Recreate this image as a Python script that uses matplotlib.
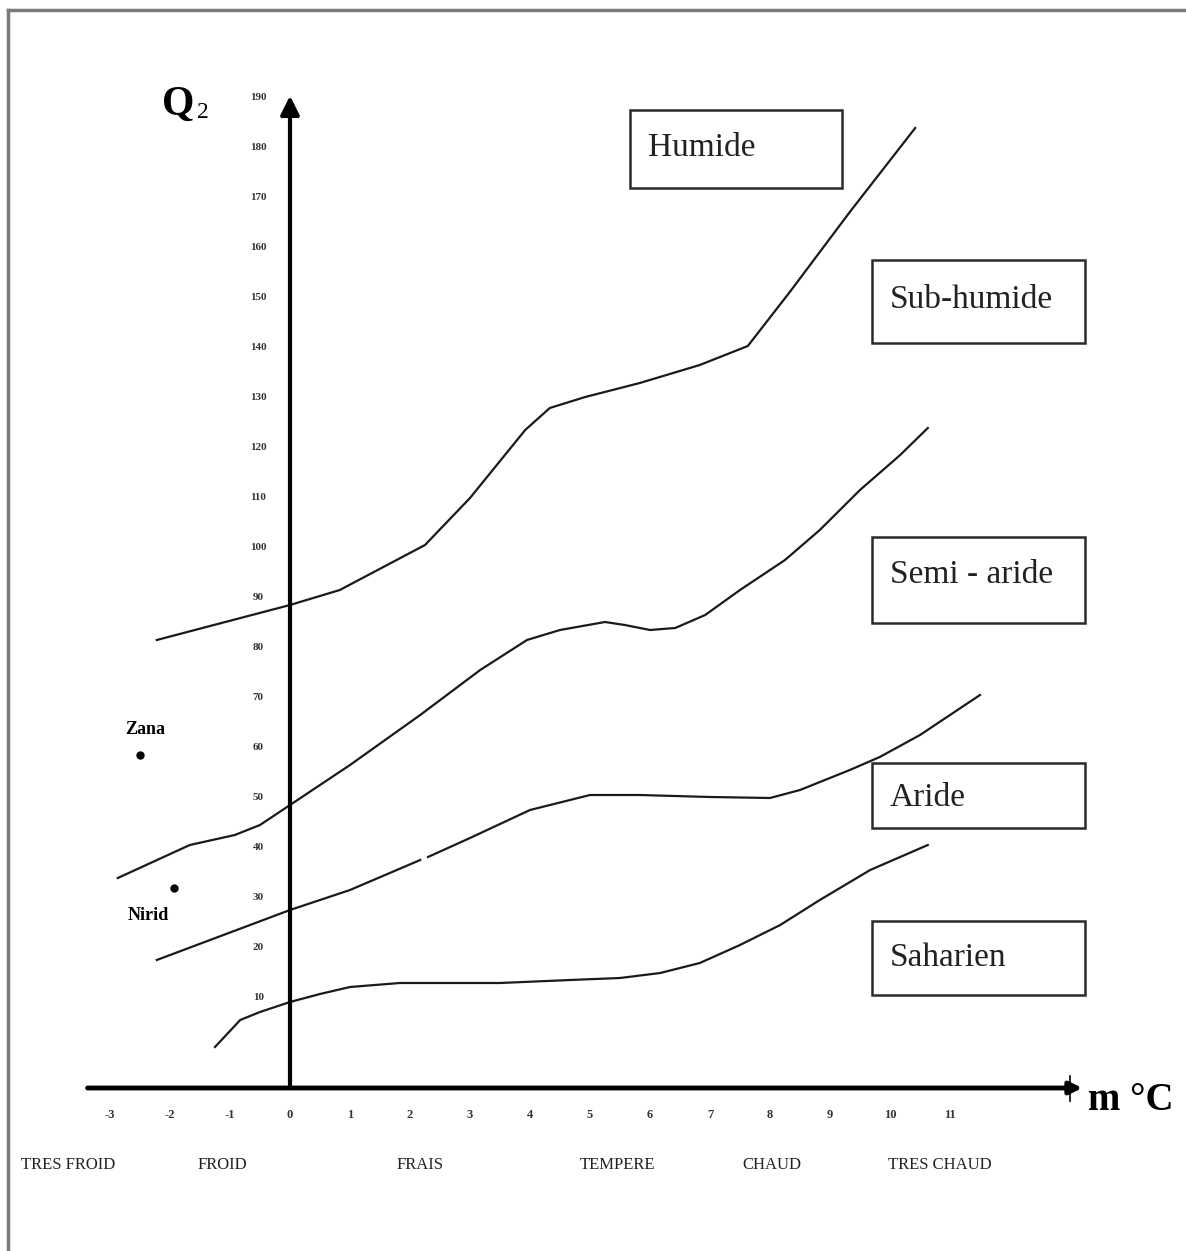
import numpy as np
import matplotlib.pyplot as plt
from matplotlib.patches import Rectangle
from matplotlib.lines import Line2D

# limites entre les etages bioclimatiques (m en degres C, Q2)
m_hum = [-2.22, 0, 0.83, 2.25, 3.0, 3.92, 4.33, 4.92, 5.83, 6.83, 7.63, 8.33, 9.33, 10.42]
q_hum = [81.6, 88.6, 91.6, 100.6, 110.0, 123.6, 128.0, 130.2, 133.0, 136.6, 140.4, 151.2, 167.2, 184.0]

m_sub = [-2.87, -1.67, -0.92, -0.5, 0, 1.0, 2.17, 3.17, 3.95, 4.5, 5.25, 5.58, 6.0, 6.42, 6.92, 7.5, 8.25, 8.83, 9.5, 10.17, 10.63]
q_sub = [34.0, 40.6, 42.6, 44.6, 48.6, 56.6, 66.6, 75.6, 81.6, 83.6, 85.2, 84.6, 83.6, 84.0, 86.6, 91.6, 97.6, 103.6, 111.6, 118.6, 124.0]

m_semi = [-2.22, 0, 1.0, 2.17, 2.3, 3.0, 4.0, 5.0, 5.83, 7.0, 8.0, 8.5, 9.33, 9.83, 10.5, 11.5]
q_semi = [17.6, 27.6, 31.6, 37.6, 38.2, 42.0, 47.6, 50.6, 50.6, 50.2, 50.0, 51.6, 55.6, 58.2, 62.6, 70.6]

m_ari = [-1.25, -0.83, -0.5, 0, 0.5, 1.0, 1.83, 3.5, 4.67, 5.5, 6.17, 6.83, 7.5, 8.17, 8.83, 9.67, 10.63]
q_ari = [0.2, 5.6, 7.2, 9.2, 10.8, 12.2, 13.0, 13.0, 13.6, 14.0, 15.0, 17.0, 20.6, 24.6, 29.6, 35.6, 40.6]

# stations
stations = ['Zana', 'Nirid']
m_sta = [-2.5, -1.93]
q_sta = [58.6, 32.0]

etages = ['Humide', 'Sub-humide', 'Semi - aride', 'Aride', 'Saharien']
classes_m = ['TRES FROID', 'FROID', 'FRAIS', 'TEMPERE', 'CHAUD', 'TRES CHAUD']
x_ticks = list(range(-3, 12))
y_ticks = list(range(10, 200, 10))

serif = 'Liberation Serif'

fig = plt.figure(figsize=(11.86, 12.51), dpi=100)
ax = fig.add_axes([0, 0, 1, 1])
ax.set_xlim(-290 / 60, (1186 - 290) / 60)
ax.set_ylim((1048 - 1251) / 5, 1048 / 5)
ax.axis('off')

# cadre gris
fig.add_artist(Line2D([0.0067, 0.0067], [0, 0.992], color='#7a7a7a', lw=2.5))
fig.add_artist(Line2D([0.0067, 1], [0.992, 0.992], color='#7a7a7a', lw=2.5))

# axes avec fleches
ax.annotate('', xy=(13.25, -8), xytext=(-3.42, -8),
            arrowprops=dict(arrowstyle='-|>', color='black', lw=3.5, mutation_scale=18))
ax.plot([13.0, 13.0], [-10.5, -5.5], color='black', lw=1.2)
ax.annotate('', xy=(0, 191), xytext=(0, -8),
            arrowprops=dict(arrowstyle='-|>', color='black', lw=3, mutation_scale=28))

# courbes
lc = '#1a1a1a'
ax.plot(m_hum, q_hum, color=lc, lw=1.6)
ax.plot(m_sub, q_sub, color=lc, lw=1.6)
ax.plot(m_semi[:4], q_semi[:4], color=lc, lw=1.6)
ax.plot(m_semi[4:], q_semi[4:], color=lc, lw=1.6)
ax.plot(m_ari, q_ari, color=lc, lw=1.6)

# graduations
for t in y_ticks:
    ax.text(-0.53, t, str(t), fontsize=8, family=serif, fontweight='bold',
            ha='center', va='center', color='#333333')
for t in x_ticks:
    ax.text(t, -13.4, str(t), fontsize=9, family=serif, fontweight='bold',
            ha='center', va='center', color='#333333')

cx = [-3.7, -1.13, 2.17, 5.45, 8.03, 10.83]
for lab, x in zip(classes_m, cx):
    ax.text(x, -23.4, lab, fontsize=12, family=serif, ha='center', va='center',
            color='#222222')

# boites des etages
bx = [(5.67, 9.2), (9.7, 13.25), (9.7, 13.25), (9.7, 13.25), (9.7, 13.25)]
by = [(172.0, 187.6), (141.0, 157.6), (85.0, 102.2), (44.0, 57.0), (10.6, 25.4)]
ty = [180.0, 149.6, 94.6, 50.0, 18.0]
for lab, (x0, x1), (y0, y1), yt in zip(etages, bx, by, ty):
    ax.add_patch(Rectangle((x0, y0), x1 - x0, y1 - y0, fill=False,
                           edgecolor='#2a2a2a', lw=1.8))
    ax.text(x0 + 0.3, yt, lab, fontsize=24, family=serif, ha='left',
            va='center', color='#222222')

# stations
ax.plot(m_sta, q_sta, 'o', color='black', ms=5)
ax.text(-2.42, 63.6, stations[0], fontsize=13, family=serif, fontweight='bold',
        ha='center', va='center')
ax.text(-2.37, 26.6, stations[1], fontsize=13, family=serif, fontweight='bold',
        ha='center', va='center')

# titres des axes
ax.text(-1.87, 188.6, 'Q', fontsize=30, family=serif, fontweight='bold',
        ha='center', va='center')
ax.text(-1.45, 187.0, '2', fontsize=17, family=serif, ha='center', va='center')
ax.text(13.3, -10.6, 'm \u00b0C', fontsize=28, family=serif, fontweight='bold',
        ha='left', va='center')

plt.savefig('out.png', dpi=100)
